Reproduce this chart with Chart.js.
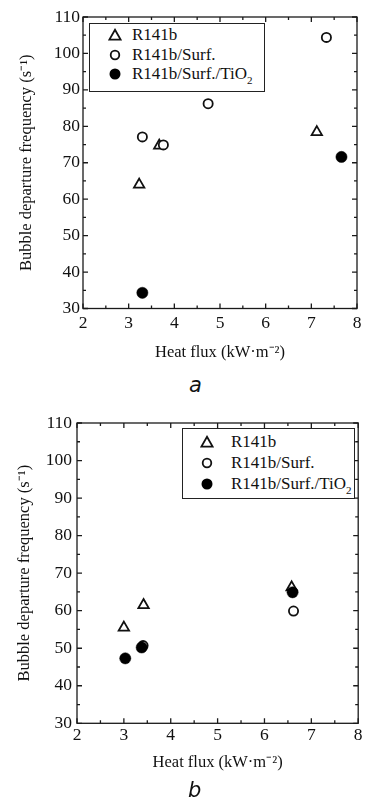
<!DOCTYPE html>
<html>
<head>
<meta charset="utf-8">
<script src="https://cdn.jsdelivr.net/npm/chart.js@4.4.0/dist/chart.umd.min.js"></script>
<style>
  html, body { margin:0; padding:0; background:#fff; }
  #wrap { position:relative; width:366px; height:805px; overflow:hidden; font-family:'Liberation Serif', serif; }
  .cv { position:absolute; left:0; }
  .legend { position:absolute; border:1px solid #222; box-sizing:border-box; background:#fff; }
  .row { position:absolute; height:20px; line-height:20px; font-size:17px; color:#111; white-space:nowrap; }
  .row sub { font-size:11px; vertical-align:-5px; line-height:0; }
  .mk { position:absolute; width:14px; height:14px; }
  .panel { position:absolute; font-family:'DejaVu Sans', sans-serif; font-style:italic; font-size:21px; color:#111; }
</style>
</head>
<body>
<div id="wrap">
  <canvas id="ca" class="cv" width="366" height="370" style="top:0"></canvas>
  <canvas id="cb" class="cv" width="366" height="375" style="top:405px"></canvas>
  <div id="la" class="legend" style="left:89px;top:23px;width:176px;height:69px"></div>
  <div id="lb" class="legend" style="left:182px;top:428px;width:173px;height:71px"></div>
  <div class="panel" style="left:189px;top:373px">a</div>
  <div class="panel" style="left:188px;top:778px">b</div>
</div>
<script>
// ---- data ----
const seriesNames = ['R141b', 'R141b/Surf.', 'R141b/Surf./TiO<sub>2</sub>'];
const xTitle = 'Heat flux (kW\u00B7m\u207B\u00B2)';
const yTitle = 'Bubble departure frequency (s\u207B\u00B9)';

// panel a
const a_R141b_x = [3.23, 3.67, 7.12];
const a_R141b_y = [64.0, 74.7, 78.4];
const a_Surf_x  = [3.30, 3.76, 4.74, 7.33];
const a_Surf_y  = [77.1, 74.9, 86.2, 104.4];
const a_TiO2_x  = [3.30, 7.66];
const a_TiO2_y  = [34.3, 71.6];

// panel b
const b_R141b_x = [3.00, 3.42, 6.58];
const b_R141b_y = [55.5, 61.5, 66.2];
const b_Surf_x  = [3.41, 6.62];
const b_Surf_y  = [50.7, 59.9];
const b_TiO2_x  = [3.03, 3.38, 6.60];
const b_TiO2_y  = [47.3, 50.2, 64.9];

const xMin = 2, xMax = 8, xStep = 1;
const yMin = 30, yMax = 110, yStep = 10;

// ---- helpers ----
const pts = (xs, ys) => xs.map((x, i) => ({x, y: ys[i]}));

Chart.defaults.font.family = "'Liberation Serif', serif";
Chart.defaults.color = '#111';

const framePlugin = {
  id: 'frame',
  afterDatasetsDraw(chart) {
    const {ctx, chartArea: {left, right, top, bottom}, scales: {x, y}} = chart;
    ctx.save();
    ctx.strokeStyle = '#1a1a1a';
    ctx.lineWidth = 1.3;
    ctx.strokeRect(left, top, right - left, bottom - top);
    ctx.beginPath();
    const xs = xStep / 2, ys = yStep / 2;
    for (let v = x.min; v <= x.max + 1e-9; v += xs) {
      const p = x.getPixelForValue(v);
      const major = Math.abs((v - x.min) / xStep - Math.round((v - x.min) / xStep)) < 1e-6;
      const L = major ? 5 : 3;
      ctx.moveTo(p, bottom); ctx.lineTo(p, bottom - L);
      ctx.moveTo(p, top); ctx.lineTo(p, top + L);
    }
    for (let v = y.min; v <= y.max + 1e-9; v += ys) {
      const p = y.getPixelForValue(v);
      const major = Math.abs((v - y.min) / yStep - Math.round((v - y.min) / yStep)) < 1e-6;
      const L = major ? 5 : 3;
      ctx.moveTo(left, p); ctx.lineTo(left + L, p);
      ctx.moveTo(right, p); ctx.lineTo(right - L, p);
    }
    ctx.stroke();
    ctx.restore();
  }
};

const tickFont = {family: "'Liberation Serif', serif", size: 17.5};
const titleFont = {family: "'Liberation Serif', serif", size: 16.5};

function makeChart(id, d, L) {
  return new Chart(document.getElementById(id), {
    type: 'scatter',
    data: {
      datasets: [
        {label: 'R141b', data: pts(d[0], d[1]), pointStyle: 'triangle', radius: 6, borderWidth: 1.8,
         borderColor: '#111', backgroundColor: '#fff', order: 2},
        {label: 'R141b/Surf.', data: pts(d[2], d[3]), pointStyle: 'circle', radius: 4.6, borderWidth: 1.8,
         borderColor: '#111', backgroundColor: '#fff', order: 1},
        {label: 'R141b/Surf./TiO2', data: pts(d[4], d[5]), pointStyle: 'circle', radius: 5.6, borderWidth: 0.5,
         borderColor: '#000', backgroundColor: '#000', order: 0}
      ]
    },
    options: {
      responsive: false,
      devicePixelRatio: 1,
      animation: false,
      events: [],
      layout: {padding: {top: L.top, right: L.right, left: 0, bottom: 0}},
      plugins: {legend: {display: false}, tooltip: {enabled: false}},
      scales: {
        x: {
          type: 'linear', min: xMin, max: xMax,
          grid: {display: false, drawTicks: false}, border: {display: false},
          ticks: {stepSize: xStep, color: '#111', font: tickFont, padding: L.xpad},
          title: {display: true, text: xTitle, color: '#111', font: titleFont, padding: {top: 0, bottom: L.xtp}},
          afterFit(s) { s.height = L.xh; }
        },
        y: {
          type: 'linear', min: yMin, max: yMax,
          grid: {display: false, drawTicks: false}, border: {display: false},
          ticks: {stepSize: yStep, color: '#111', font: tickFont, padding: L.ypad},
          title: {display: true, text: yTitle, color: '#111', font: titleFont, padding: {top: L.ytp, bottom: 0}},
          afterFit(s) { s.width = L.yw; }
        }
      }
    },
    plugins: [framePlugin]
  });
}

makeChart('ca', [a_R141b_x, a_R141b_y, a_Surf_x, a_Surf_y, a_TiO2_x, a_TiO2_y],
  {top: 17, right: 9, yw: 83, xh: 61.5, xpad: 4, xtp: 7.4, ypad: 3, ytp: 17});
makeChart('cb', [b_R141b_x, b_R141b_y, b_Surf_x, b_Surf_y, b_TiO2_x, b_TiO2_y],
  {top: 18, right: 7, yw: 77, xh: 56.7, xpad: 2, xtp: 7.1, ypad: 5, ytp: 15});

// ---- legends (HTML) ----
const markers = [
  '<svg class="mk" viewBox="0 0 14 14"><polygon points="7,1.8 12.6,11.6 1.4,11.6" fill="#fff" stroke="#111" stroke-width="1.8"/></svg>',
  '<svg class="mk" viewBox="0 0 14 14"><circle cx="7" cy="7" r="4.3" fill="#fff" stroke="#111" stroke-width="1.8"/></svg>',
  '<svg class="mk" viewBox="0 0 14 14"><circle cx="7" cy="7" r="5.5" fill="#000"/></svg>'
];
function buildLegend(id, mx, tx, rows) {
  const el = document.getElementById(id);
  let h = '';
  seriesNames.forEach((n, i) => {
    h += '<div style="position:absolute;left:' + (mx - 7) + 'px;top:' + (rows[i] - 7) + 'px">' + markers[i] + '</div>';
    h += '<div class="row" style="left:' + tx + 'px;top:' + (rows[i] - 10) + 'px">' + n + '</div>';
  });
  el.innerHTML = h;
}
buildLegend('la', 25, 42, [11, 30.5, 49.5]);
buildLegend('lb', 24, 48, [13, 34, 55]);
</script>
</body>
</html>
